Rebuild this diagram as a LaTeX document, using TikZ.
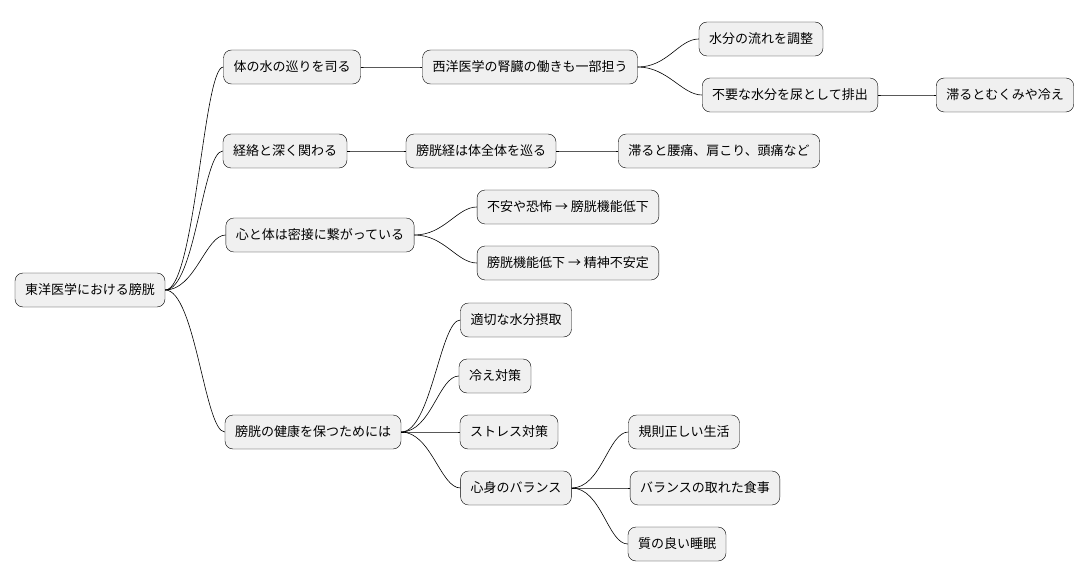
\documentclass[tikz,border=0pt]{standalone}
\usepackage{fontspec}
\setmainfont{Noto Sans CJK JP}
\usetikzlibrary{positioning}

\begin{document}
\begin{tikzpicture}[x=1pt, y=-1pt,
	every node/.style={font=\fontsize{13}{15}\selectfont},
	box/.style={draw=black, fill=gray!12, rounded corners=8pt, minimum height=34pt, inner xsep=10pt},
	link/.style={draw=black, line width=0.6pt}]
	\useasboundingbox (0,0) rectangle (1090,583);
	% root and first level
	\node[box] (root) at (90,290) {東洋医学における膀胱};
	\node[box] (water) at (292,67) {体の水の巡りを司る};
	\node[box] (meridian) at (285,151) {経絡と深く関わる};
	\node[box] (mind) at (320,235) {心と体は密接に繋がっている};
	\node[box] (health) at (313,432) {膀胱の健康を保つためには};
	% water branch
	\node[box] (kidney) at (530,67) {西洋医学の腎臓の働きも一部担う};
	\node[box] (flow) at (761,39) {水分の流れを調整};
	\node[box] (urine) at (790,95) {不要な水分を尿として排出};
	\node[box] (swell) at (1005,95) {滞るとむくみや冷え};
	% meridian branch
	\node[box] (channel) at (481,151) {膀胱経は体全体を巡る};
	\node[box] (pain) at (719,151) {滞ると腰痛、肩こり、頭痛など};
	% mind branch
	\node[box] (fear) at (568,207) {不安や恐怖 → 膀胱機能低下};
	\node[box] (unstable) at (568,263) {膀胱機能低下 → 精神不安定};
	% health branch
	\node[box] (drink) at (516,320) {適切な水分摂取};
	\node[box] (cold) at (495,376) {冷え対策};
	\node[box] (stress) at (509,432) {ストレス対策};
	\node[box] (balance) at (516,488) {心身のバランス};
	\node[box] (regular) at (684,432) {規則正しい生活};
	\node[box] (meal) at (705,488) {バランスの取れた食事};
	\node[box] (sleep) at (677,544) {質の良い睡眠};

	\foreach \a/\b in {root/water, root/meridian, root/mind, root/health,
		water/kidney, kidney/flow, kidney/urine, urine/swell,
		meridian/channel, channel/pain, mind/fear, mind/unstable,
		health/drink, health/cold, health/stress, health/balance,
		balance/regular, balance/meal, balance/sleep}
		\draw[link] (\a.east) .. controls +(30,0) and +(-20,0) .. (\b.west);
\end{tikzpicture}
\end{document}
